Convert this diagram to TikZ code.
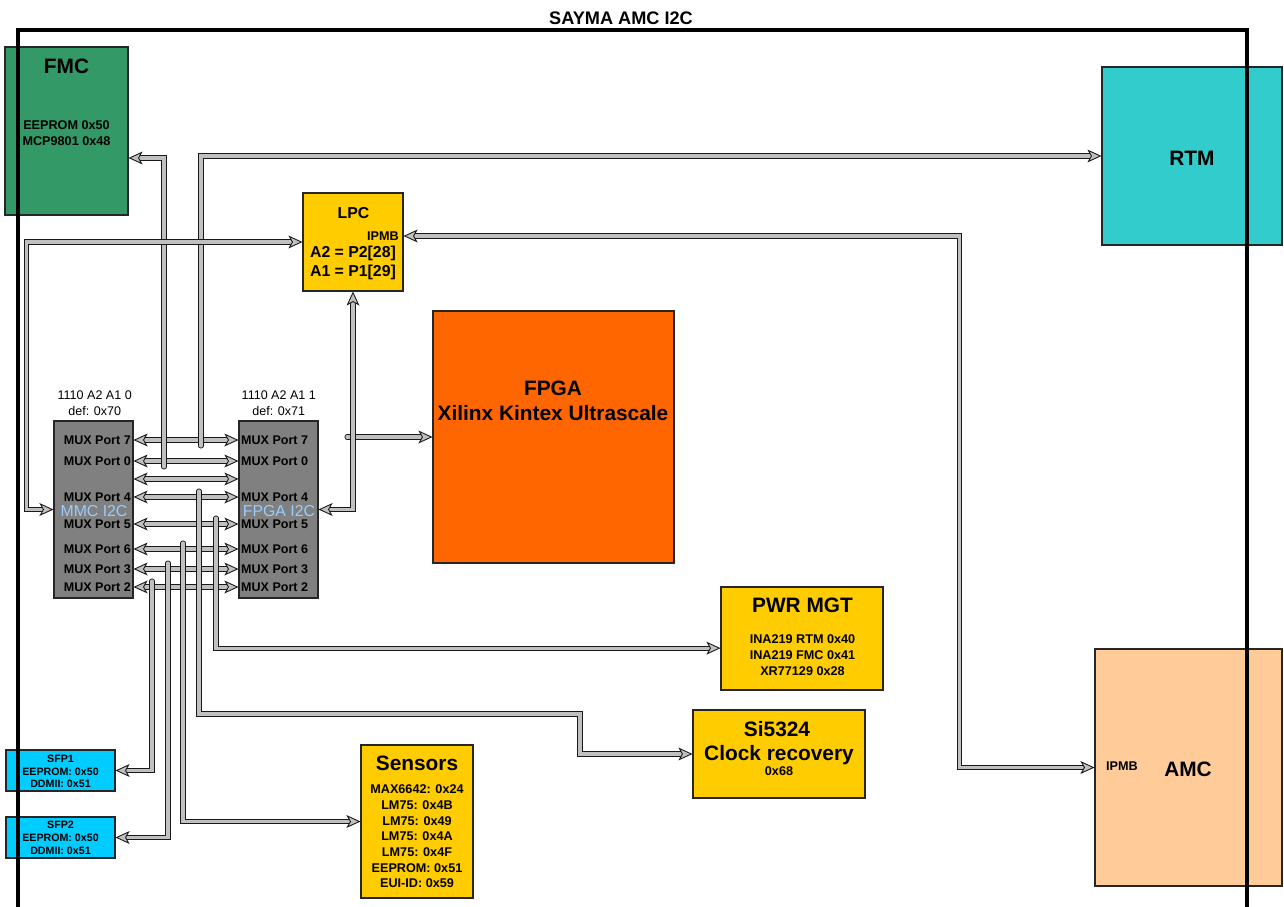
\documentclass[tikz,border=0pt]{standalone}
\usepackage{fontspec}
\setmainfont{Liberation Sans}
\usetikzlibrary{arrows.meta}

\definecolor{fmcgreen}{HTML}{339966}
\definecolor{rtmteal}{HTML}{33CCCC}
\definecolor{chipyellow}{HTML}{FFCC00}
\definecolor{fpgaorange}{HTML}{FF6600}
\definecolor{muxgray}{HTML}{808080}
\definecolor{sfpblue}{HTML}{00CCFF}
\definecolor{amcpeach}{HTML}{FFCC99}
\definecolor{i2cblue}{HTML}{99CCFF}
\definecolor{busgray}{HTML}{C0C0C0}

\begin{document}
\begin{tikzpicture}[x=0.3mm, y=-0.3mm,
    box/.style={draw=black!85, line width=0.9pt, inner sep=0pt},
    bus/.style={draw=black!90, line width=0.75pt, double=busgray, double distance=2.8pt},
    tap/.style={bus, line cap=round},
    frame/.style={draw=black, line width=3.2pt},
    titletext/.style={font=\fontsize{17.8}{21.3}\selectfont\bfseries, align=center},
    midtext/.style={font=\fontsize{13.5}{15.7}\selectfont\bfseries, align=center},
    devtext/.style={font=\fontsize{10.8}{13.4}\selectfont\bfseries, align=center},
    sfptext/.style={font=\fontsize{9.1}{10.9}\selectfont\bfseries, align=center},
    addrtext/.style={font=\fontsize{10.7}{13.4}\selectfont, align=center},
    i2ctext/.style={font=\fontsize{13.5}{16}\selectfont, text=i2cblue},
    muxport/.style={font=\fontsize{10.7}{13}\selectfont\bfseries, inner sep=0pt},
    >={Stealth[length=12pt, width=11pt, inset=3pt, fill=busgray, line width=0.75pt]}]
\useasboundingbox (0,0) rectangle (1284,907);

% Blocks
\node[box, fill=fmcgreen, minimum width=36.9mm, minimum height=50.4mm] (fmc) at (66.5,131) {};
\node[box, fill=rtmteal, minimum width=54mm, minimum height=53.4mm] (rtm) at (1192,156) {};
\node[box, fill=chipyellow, minimum width=30mm, minimum height=29.4mm] (lpc) at (353,242) {};
\node[box, fill=fpgaorange, minimum width=72.3mm, minimum height=75.6mm] (fpga) at (553.5,437) {};
\node[box, fill=muxgray, minimum width=23.7mm, minimum height=53.1mm] (mmc) at (93.5,509.5) {};
\node[box, fill=muxgray, minimum width=23.7mm, minimum height=53.1mm] (fmux) at (278.5,509.5) {};
\node[box, fill=chipyellow, minimum width=48.6mm, minimum height=30.9mm] (pwr) at (802,638.5) {};
\node[box, fill=chipyellow, minimum width=51.6mm, minimum height=26.4mm] (si) at (779,754) {};
\node[box, fill=chipyellow, minimum width=33.6mm, minimum height=45.9mm] (sens) at (417,821.5) {};
\node[box, fill=sfpblue, minimum width=32.7mm, minimum height=12.3mm] (sfpa) at (60.5,770.5) {};
\node[box, fill=sfpblue, minimum width=32.7mm, minimum height=12.3mm] (sfpb) at (60.5,837.5) {};
\node[box, fill=amcpeach, minimum width=56.1mm, minimum height=71.1mm] (amc) at (1188.5,767.5) {};

% Texts
\node[font=\fontsize{15.5}{18}\selectfont\bfseries] (title) at (621,18) {SAYMA AMC I2C};
\node[titletext] (fmctitle) at (66.5,66) {FMC};
\node[devtext] (fmcdev) at (66.5,133) {EEPROM 0x50\\MCP9801 0x48};
\node[titletext] (rtmtitle) at (1192,158) {RTM};
\node[midtext] (lpctitle) at (353.5,213) {LPC};
\node[devtext, anchor=east, inner sep=0pt] (lpcipmb) at (399,236) {IPMB};
\node[midtext] (lpcaddr) at (353,263) {A2 = P2[28]\\A1 = P1[29]};
\node[titletext] (fpgatitle) at (553,400.5) {FPGA\\Xilinx Kintex Ultrascale};
\node[addrtext] (mmcaddr) at (94.7,403) {1110 A2 A1 0\\def: 0x70};
\node[addrtext] (fmuxaddr) at (278.8,403) {1110 A2 A1 1\\def: 0x71};
\node[i2ctext] (mmcbus) at (94,511) {MMC I2C};
\node[i2ctext] (fmuxbus) at (279,511) {FPGA I2C};
\foreach \p/\r in {7/440,0/461,4/497,5/524,6/549,3/569,2/587}{
  \node[muxport, anchor=east] (mmcp\p) at (131,\r) {MUX Port \p};
  \node[muxport, anchor=west] (fmuxp\p) at (241,\r) {MUX Port \p};
}
\node[titletext] (pwrtitle) at (802.5,605) {PWR MGT};
\node[devtext] (pwrdev) at (802.5,655) {INA219 RTM 0x40\\INA219 FMC 0x41\\XR77129 0x28};
\node[titletext] (sititle) at (777,729) {Si5324};
\node[titletext] (sirole) at (779,755) {Clock recovery};
\node[devtext] (siaddr) at (779,771) {0x68};
\node[titletext] (senstitle) at (417,763) {Sensors};
\node[devtext] (sensdev) at (417,836.5) {MAX6642: 0x24\\LM75: 0x4B\\LM75: 0x49\\LM75: 0x4A\\LM75: 0x4F\\EEPROM: 0x51\\EUI-ID: 0x59};
\node[sfptext] (sfpatext) at (60.5,771.5) {SFP1\\EEPROM: 0x50\\DDMII: 0x51};
\node[sfptext] (sfpbtext) at (60.5,838) {SFP2\\EEPROM: 0x50\\DDMII: 0x51};
\node[titletext] (amctitle) at (1188,769) {AMC};
\node[devtext] (amcipmb) at (1122,766) {IPMB};

% Mux to mux
\coordinate (row) at (0,479);
\foreach \p in {7,0,4,5,6,3,2}
  \draw[bus, <->] (mmc.east |- mmcp\p) -- (fmux.west |- mmcp\p);
\draw[bus, <->] (mmc.east |- row) -- (fmux.west |- row);

% Taps
\coordinate (jfmc) at (164,467);
\coordinate (jrtm) at (201,446);
\coordinate (jsfpa) at (152,581);
\coordinate (jsfpb) at (168,563);
\coordinate (jsens) at (183,543);
\coordinate (jsi) at (199,491);
\coordinate (jpwr) at (216,518);
\coordinate (sibend) at (580,714);
\coordinate (jfpga) at (347,437);
\draw[tap, ->] (jfmc) |- ([yshift=-8.1mm]fmc.east);
\draw[tap, ->] (jrtm) |- (rtm.west);
\draw[tap, ->] (jsfpa) |- (sfpa.east);
\draw[tap, ->] (jsfpb) |- (sfpb.east);
\draw[tap, ->] (jsens) |- (sens.west);
\draw[tap, ->] (jsi) |- (sibend) |- (si.west);
\draw[tap, ->] (jpwr) |- ([yshift=-2.9mm]pwr.west);

% LPC links
\draw[bus, <->] (mmc.west) -- ++(-27,0) |- (lpc.west);
\draw[tap, ->] (jfpga) -- (fpga.west);
\draw[bus, <->] (lpc.south) |- (fmux.east);
\draw[bus, <->] (amc.west) -- ++(-135,0) |- (lpc.east |- lpcipmb);

% Board outline
\draw[frame] (18,920) -- (18,30) -- (1247,30) -- (1247,920);
\end{tikzpicture}
\end{document}
